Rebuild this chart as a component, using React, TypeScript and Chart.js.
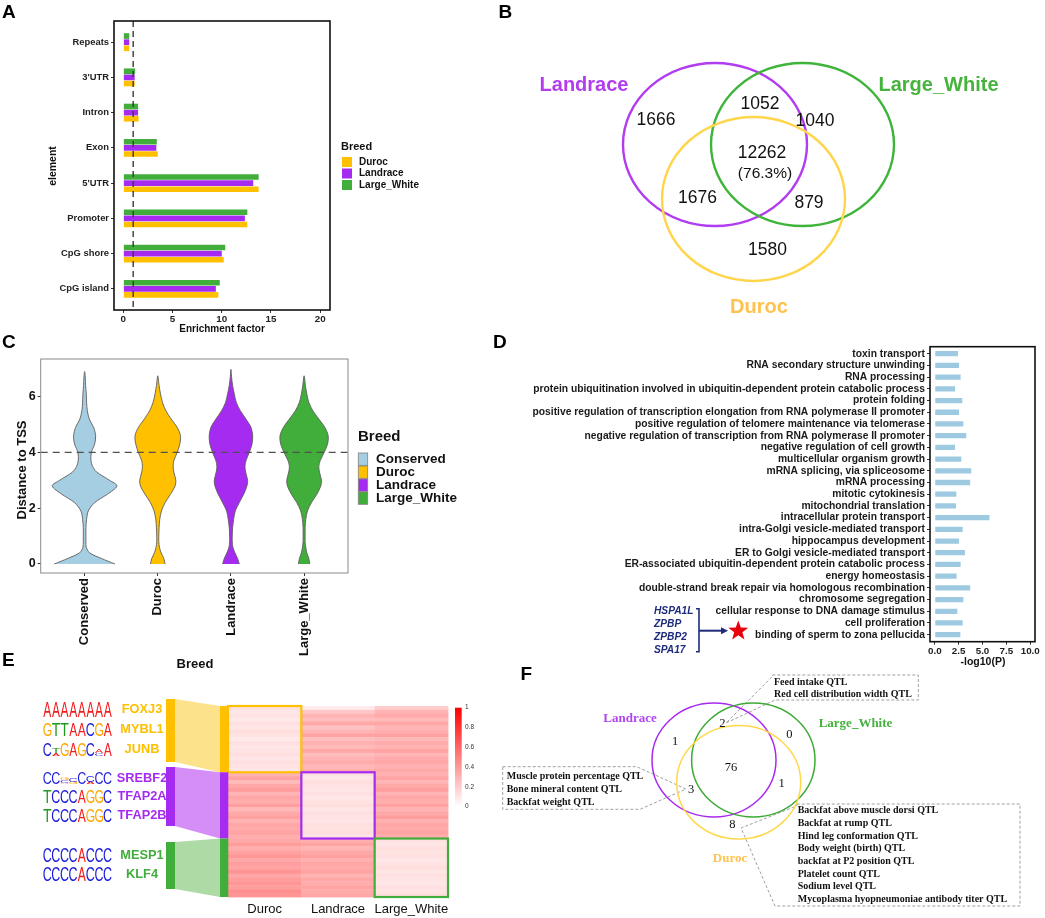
import React, { useEffect, useRef } from 'react';
import { Chart, registerables } from 'chart.js';

Chart.register(...registerables);

const SANS = '"Liberation Sans", Arial, Helvetica, sans-serif';
const SERIF = '"Liberation Serif", "Times New Roman", Times, serif';

const COLOR_DUROC = '#FFC000';
const COLOR_LANDRACE = '#A52BF1';
const COLOR_LW = '#41AD3A';
const COLOR_CONSERVED = '#A6CEE3';
const COLOR_GO = '#9ECAE1';

/* ---------- Panel A : enrichment factor ---------- */
const elementCategories = ['Repeats', "3'UTR", 'Intron', 'Exon', "5'UTR", 'Promoter', 'CpG shore', 'CpG island'];
const enrichLargeWhite = [0.6, 1.2, 1.5, 3.4, 13.75, 12.6, 10.35, 9.8];
const enrichLandrace = [0.6, 1.15, 1.5, 3.35, 13.2, 12.35, 10.0, 9.4];
const enrichDuroc = [0.6, 1.15, 1.55, 3.5, 13.75, 12.6, 10.2, 9.65];
const enrichTicks = [0, 5, 10, 15, 20];
const enrichThreshold = 1;
const breedNames = ['Duroc', 'Landrace', 'Large_White'];
const breedColors = [COLOR_DUROC, COLOR_LANDRACE, COLOR_LW];

/* ---------- Panel B : peak Venn ---------- */
const vennBSets = ['Landrace', 'Large_White', 'Duroc'];
// order: Landrace only, Landrace&LW, LW only, all three, Landrace&Duroc, LW&Duroc, Duroc only
const vennBCounts = [1666, 1052, 1040, 12262, 1676, 879, 1580];
const vennBCoreShare = '(76.3%)';

/* ---------- Panel C : violins ---------- */
const violinGroups = ['Conserved', 'Duroc', 'Landrace', 'Large_White'];
const violinY = [0, 0.2, 0.4, 0.6, 0.8, 1.0, 1.3, 1.6, 1.9, 2.2, 2.5, 2.8, 3.0, 3.3, 3.5, 3.7, 4.0, 4.3, 4.6, 4.9, 5.2, 5.5, 5.8, 6.1, 6.4, 6.7];
const violinConserved = [0.415, 0.228, 0.068, 0.023, 0.018, 0.018, 0.018, 0.027, 0.05, 0.137, 0.31, 0.443, 0.342, 0.164, 0.11, 0.087, 0.091, 0.137, 0.151, 0.123, 0.064, 0.037, 0.027, 0.023, 0.014, 0.009];
const violinDuroc = [0.1, 0.082, 0.046, 0.023, 0.014, 0.014, 0.018, 0.027, 0.05, 0.1, 0.174, 0.237, 0.247, 0.219, 0.21, 0.219, 0.265, 0.301, 0.311, 0.265, 0.183, 0.11, 0.064, 0.037, 0.018, 0.005];
const violinLandrace = [0.114, 0.091, 0.055, 0.027, 0.018, 0.018, 0.023, 0.037, 0.059, 0.114, 0.174, 0.219, 0.228, 0.201, 0.192, 0.205, 0.251, 0.288, 0.297, 0.274, 0.205, 0.128, 0.073, 0.046, 0.023, 0.009];
const violinLargeWhite = [0.078, 0.064, 0.037, 0.023, 0.014, 0.014, 0.014, 0.023, 0.046, 0.1, 0.174, 0.228, 0.237, 0.21, 0.201, 0.219, 0.274, 0.32, 0.329, 0.283, 0.201, 0.119, 0.064, 0.037, 0.018, 0.005];
const violinTop = [6.9, 6.75, 6.98, 6.75];
const tssTicks = [0, 2, 4, 6];
const tssThreshold = 4;

/* ---------- Panel D : GO terms ---------- */
const goTerms = [
  'toxin transport',
  'RNA secondary structure unwinding',
  'RNA processing',
  'protein ubiquitination involved in ubiquitin-dependent protein catabolic process',
  'protein folding',
  'positive regulation of transcription elongation from RNA polymerase II promoter',
  'positive regulation of telomere maintenance via telomerase',
  'negative regulation of transcription from RNA polymerase II promoter',
  'negative regulation of cell growth',
  'multicellular organism growth',
  'mRNA splicing, via spliceosome',
  'mRNA processing',
  'mitotic cytokinesis',
  'mitochondrial translation',
  'intracellular protein transport',
  'intra-Golgi vesicle-mediated transport',
  'hippocampus development',
  'ER to Golgi vesicle-mediated transport',
  'ER-associated ubiquitin-dependent protein catabolic process',
  'energy homeostasis',
  'double-strand break repair via homologous recombination',
  'chromosome segregation',
  'cellular response to DNA damage stimulus',
  'cell proliferation',
  'binding of sperm to zona pellucida',
];
const goLogP = [2.43, 2.54, 2.71, 2.12, 2.88, 2.54, 2.99, 3.3, 2.12, 2.78, 3.82, 3.71, 2.26, 2.22, 5.73, 2.92, 2.54, 3.16, 2.71, 2.29, 3.71, 2.99, 2.36, 2.92, 2.68];
const goTicks = [0, 2.5, 5, 7.5, 10];
const spermGenes = ['HSPA1L', 'ZPBP', 'ZPBP2', 'SPA17'];

/* ---------- Panel E : motifs + heatmap ---------- */
const heatColumns = ['Duroc', 'Landrace', 'Large_White'];
const heatGroupSizes = [17, 17, 15];
const heatDuroc = [0.12, 0.1, 0.11, 0.09, 0.12, 0.1, 0.13, 0.11, 0.09, 0.12, 0.1, 0.11, 0.13, 0.1, 0.12, 0.11, 0.1,
  0.3, 0.36, 0.27, 0.34, 0.39, 0.29, 0.35, 0.32, 0.38, 0.28, 0.34, 0.37, 0.3, 0.35, 0.33, 0.36, 0.32,
  0.34, 0.39, 0.32, 0.37, 0.41, 0.34, 0.38, 0.36, 0.42, 0.35, 0.39, 0.41, 0.38, 0.44, 0.42];
const heatLandrace = [0.08, 0.22, 0.3, 0.26, 0.34, 0.24, 0.29, 0.36, 0.25, 0.31, 0.27, 0.35, 0.26, 0.3, 0.33, 0.28, 0.32,
  0.12, 0.1, 0.13, 0.11, 0.1, 0.12, 0.09, 0.11, 0.13, 0.1, 0.12, 0.11, 0.1, 0.12, 0.11, 0.13, 0.1,
  0.32, 0.36, 0.29, 0.34, 0.37, 0.31, 0.35, 0.33, 0.36, 0.3, 0.34, 0.32, 0.36, 0.33, 0.35];
const heatLargeWhite = [0.2, 0.3, 0.33, 0.27, 0.35, 0.29, 0.32, 0.37, 0.28, 0.33, 0.3, 0.36, 0.29, 0.33, 0.35, 0.31, 0.34,
  0.31, 0.36, 0.29, 0.34, 0.38, 0.3, 0.35, 0.32, 0.37, 0.3, 0.34, 0.38, 0.31, 0.35, 0.33, 0.36, 0.32,
  0.12, 0.1, 0.13, 0.11, 0.12, 0.1, 0.11, 0.13, 0.1, 0.12, 0.11, 0.1, 0.12, 0.11, 0.13];
const heatScaleTicks = [1, 0.8, 0.6, 0.4, 0.2, 0];
const motifNames = ['FOXJ3', 'MYBL1', 'JUNB', 'SREBF2', 'TFAP2A', 'TFAP2B', 'MESP1', 'KLF4'];
const motifGroup = [0, 0, 0, 1, 1, 1, 2, 2];
// each column: single letter = full height; otherwise letter+tenths, listed top to bottom
const motifLogos = [
  ['A', 'A', 'A', 'A', 'A', 'A', 'A', 'A'],
  ['G', 'T', 'T', 'A', 'A', 'C', 'G', 'A'],
  ['C', 'T4A2', 'G', 'A', 'G', 'C', 'A3C2', 'A'],
  ['C', 'C', 'G2C2A1', 'C3G2', 'C', 'C5A2', 'C', 'C'],
  ['T', 'C', 'C', 'C', 'A', 'G', 'G', 'C'],
  ['T', 'C', 'C', 'C', 'A', 'G', 'G', 'C'],
  ['C', 'C', 'C', 'C', 'A', 'C', 'C', 'C'],
  ['C', 'C', 'C', 'C', 'A', 'C', 'C', 'C'],
];

/* ---------- Panel F : QTL Venn ---------- */
const vennFSets = ['Landrace', 'Large_White', 'Duroc'];
const vennFCounts = [1, 2, 0, 76, 3, 1, 8];
const qtlLandraceLW = ['Feed intake QTL', 'Red cell distribution width QTL'];
const qtlLandraceDuroc = ['Muscle protein percentage QTL', 'Bone mineral content QTL', 'Backfat weight QTL'];
const qtlDurocOnly = ['Backfat above muscle dorsi QTL', 'Backfat at rump QTL', 'Hind leg conformation QTL', 'Body weight (birth) QTL', 'backfat at P2 position QTL', 'Platelet count QTL', 'Sodium level QTL', 'Mycoplasma hyopneumoniae antibody titer QTL'];

/* ---------- helpers ---------- */
function put(ctx: CanvasRenderingContext2D, s: string, x: number, y: number, font: string, color: string,
  align: CanvasTextAlign = 'left', baseline: CanvasTextBaseline = 'middle', rot = 0) {
  ctx.save();
  ctx.font = font;
  ctx.fillStyle = color;
  ctx.textAlign = align;
  ctx.textBaseline = baseline;
  ctx.translate(x, y);
  if (rot) ctx.rotate(rot);
  ctx.fillText(s, 0, 0);
  ctx.restore();
}

const noInteraction = { events: [] as any[], animation: false as const, responsive: false };
const hidePlugins = { legend: { display: false }, tooltip: { enabled: false } };

function axisFont(size: number, weight: any = 'bold') {
  return { family: SANS, size, weight, lineHeight: 1.1 };
}

function pageChart(left: number, top: number, width: number, height: number, draw: (chart: any) => void, id: string) {
  return {
    type: 'scatter',
    data: { datasets: [] },
    options: {
      ...noInteraction,
      layout: { padding: 0 },
      plugins: hidePlugins,
      scales: {
        x: { type: 'linear', display: false, min: left, max: left + width },
        y: { type: 'linear', display: false, min: top, max: top + height, reverse: true },
      },
    },
    plugins: [{ id, afterDraw: draw }],
  };
}

/* ---------- Panel A build ---------- */
const buildA = () => ({
  type: 'bar',
  data: {
    datasets: [
      { label: 'Large_White', data: enrichLargeWhite.map((v, i) => ({ x: v, y: i })), backgroundColor: COLOR_LW },
      { label: 'Landrace', data: enrichLandrace.map((v, i) => ({ x: v, y: i })), backgroundColor: COLOR_LANDRACE },
      { label: 'Duroc', data: enrichDuroc.map((v, i) => ({ x: v, y: i })), backgroundColor: COLOR_DUROC },
    ],
  },
  options: {
    ...noInteraction,
    indexAxis: 'y',
    layout: { padding: { left: 0, right: 100, top: 21, bottom: 0 } },
    datasets: { bar: { categoryPercentage: 0.52, barPercentage: 0.93 } },
    plugins: hidePlugins,
    scales: {
      x: {
        type: 'linear', min: -0.95, max: 21,
        afterBuildTicks: (s: any) => { s.ticks = enrichTicks.map((v) => ({ value: v })); },
        afterFit: (s: any) => { s.height = 30; },
        grid: { drawOnChartArea: false, tickLength: 3, color: '#333' },
        border: { display: false },
        ticks: { font: axisFont(9.8), color: '#222', padding: 1, maxRotation: 0, autoSkip: false },
      },
      y: {
        type: 'linear', min: -0.6, max: 7.6, reverse: true, offset: false,
        afterBuildTicks: (s: any) => { s.ticks = elementCategories.map((_, i) => ({ value: i })); },
        afterFit: (s: any) => { s.width = 114; },
        grid: { offset: false, drawOnChartArea: false, tickLength: 3, color: '#333' },
        border: { display: false },
        ticks: { callback: (v: any) => elementCategories[v], font: axisFont(9.4), color: '#222', padding: 2, autoSkip: false },
      },
    },
  },
  plugins: [{
    id: 'decorA',
    afterDatasetsDraw(chart: any) {
      const { ctx, chartArea: a, scales } = chart;
      const px = scales.x.getPixelForValue(enrichThreshold);
      ctx.save();
      ctx.strokeStyle = '#3a3a3a';
      ctx.lineWidth = 1.4;
      ctx.setLineDash([6, 4]);
      ctx.beginPath(); ctx.moveTo(px, a.top); ctx.lineTo(px, a.bottom); ctx.stroke();
      ctx.setLineDash([]);
      ctx.strokeStyle = '#111';
      ctx.lineWidth = 1.6;
      ctx.strokeRect(a.left, a.top, a.right - a.left, a.bottom - a.top);
      ctx.restore();
    },
    afterDraw(chart: any) {
      const ctx = chart.ctx;
      put(ctx, 'A', 2, 18, `bold 19px ${SANS}`, '#000', 'left', 'alphabetic');
      put(ctx, 'element', 53, 166, `bold 10.5px ${SANS}`, '#111', 'center', 'middle', -Math.PI / 2);
      put(ctx, 'Enrichment factor', 222, 329, `bold 10px ${SANS}`, '#111', 'center');
      put(ctx, 'Breed', 341, 147, `bold 11px ${SANS}`, '#111');
      breedNames.forEach((b, i) => {
        ctx.fillStyle = breedColors[i];
        ctx.fillRect(342, 157 + i * 11.5, 10, 10);
        put(ctx, b, 359, 162.3 + i * 11.4, `bold 10px ${SANS}`, '#111');
      });
    },
  }],
});

/* ---------- Panel B build ---------- */
const buildB = () => pageChart(360, 0, 685, 330, (chart: any) => {
  const { ctx, scales: { x, y } } = chart;
  const X = (v: number) => x.getPixelForValue(v);
  const Y = (v: number) => y.getPixelForValue(v);
  const ell = (cx: number, cy: number, rx: number, ry: number, color: string) => {
    ctx.beginPath();
    ctx.strokeStyle = color;
    ctx.lineWidth = 2.4;
    ctx.ellipse(X(cx), Y(cy), X(cx + rx) - X(cx), Y(cy + ry) - Y(cy), 0, 0, Math.PI * 2);
    ctx.stroke();
  };
  ctx.save();
  ell(715, 144.5, 92, 81.5, '#B13CF0');
  ell(802.5, 144.5, 91.5, 81.5, '#3EB43A');
  ell(753.5, 199, 91.5, 82, '#FFD54C');
  put(ctx, 'B', X(498.5), Y(17.5), `bold 19px ${SANS}`, '#000', 'left', 'alphabetic');
  put(ctx, vennBSets[0], X(584), Y(85), `bold 20px ${SANS}`, '#B23CEE', 'center');
  put(ctx, vennBSets[1], X(938.5), Y(85), `bold 20px ${SANS}`, '#46B33C', 'center');
  put(ctx, vennBSets[2], X(759), Y(307), `bold 20px ${SANS}`, '#FFC24E', 'center');
  const pos = [[656, 120], [760, 104], [815, 121], [762, 153], [697.5, 198], [809, 203], [767.5, 250]];
  vennBCounts.forEach((c, i) => put(ctx, String(c), X(pos[i][0]), Y(pos[i][1]), `17.5px ${SANS}`, '#111', 'center'));
  put(ctx, vennBCoreShare, X(765), Y(174), `15.5px ${SANS}`, '#111', 'center');
  ctx.restore();
}, 'vennB');

/* ---------- Panel C build ---------- */
const violinSets = [violinConserved, violinDuroc, violinLandrace, violinLargeWhite];
const violinColors = [COLOR_CONSERVED, COLOR_DUROC, COLOR_LANDRACE, COLOR_LW];
function violinOutline(i: number) {
  const w = violinSets[i];
  const right = violinY.map((yv, k) => ({ x: i + w[k], y: yv }));
  const left = violinY.map((yv, k) => ({ x: i - w[k], y: yv })).reverse();
  return [...right, { x: i, y: violinTop[i] }, ...left];
}

const buildC = () => ({
  type: 'scatter',
  data: {
    datasets: violinGroups.map((g, i) => ({
      label: g,
      data: violinOutline(i),
      showLine: true,
      fill: 'shape',
      backgroundColor: violinColors[i],
      borderColor: '#5e5e5e',
      borderWidth: 0.9,
      pointRadius: 0,
      tension: 0.3,
    })),
  },
  options: {
    ...noInteraction,
    layout: { padding: { left: 0, right: 172, top: 39, bottom: 0 } },
    plugins: hidePlugins,
    scales: {
      x: {
        type: 'linear', min: -0.6, max: 3.6,
        afterBuildTicks: (s: any) => { s.ticks = violinGroups.map((_, i) => ({ value: i })); },
        afterFit: (s: any) => { s.height = 102; },
        grid: { drawOnChartArea: false, tickLength: 3, color: '#333' },
        border: { display: false },
        ticks: { callback: (v: any) => violinGroups[v], font: axisFont(13), color: '#111', padding: 2, minRotation: 90, maxRotation: 90, autoSkip: false },
      },
      y: {
        type: 'linear', min: -0.323, max: 7.352,
        afterBuildTicks: (s: any) => { s.ticks = tssTicks.map((v) => ({ value: v })); },
        afterFit: (s: any) => { s.width = 40.7; },
        grid: { drawOnChartArea: false, tickLength: 3, color: '#333' },
        border: { display: false },
        ticks: { font: axisFont(12.5), color: '#111', padding: 2, autoSkip: false },
      },
    },
  },
  plugins: [{
    id: 'decorC',
    afterDatasetsDraw(chart: any) {
      const { ctx, chartArea: a, scales } = chart;
      const py = scales.y.getPixelForValue(tssThreshold);
      ctx.save();
      ctx.strokeStyle = '#505050';
      ctx.lineWidth = 1.3;
      ctx.setLineDash([7, 5]);
      ctx.beginPath(); ctx.moveTo(a.left, py); ctx.lineTo(a.right, py); ctx.stroke();
      ctx.setLineDash([]);
      ctx.strokeStyle = '#8a8a8a';
      ctx.lineWidth = 1;
      ctx.strokeRect(a.left, a.top, a.right - a.left, a.bottom - a.top);
      ctx.restore();
    },
    afterDraw(chart: any) {
      const ctx = chart.ctx;
      const oy = 320;
      put(ctx, 'C', 2, 348 - oy, `bold 19px ${SANS}`, '#000', 'left', 'alphabetic');
      put(ctx, 'Distance to TSS', 22, 470 - oy, `bold 13px ${SANS}`, '#111', 'center', 'middle', -Math.PI / 2);
      put(ctx, 'Breed', 195, 664 - oy, `bold 13px ${SANS}`, '#111', 'center');
      put(ctx, 'Breed', 358, 437 - oy, `bold 15px ${SANS}`, '#111');
      violinGroups.forEach((g, i) => {
        const ky = 453 + i * 13 - oy;
        ctx.fillStyle = violinColors[i];
        ctx.fillRect(358.3, ky, 9.4, 12.3);
        ctx.strokeStyle = '#808080';
        ctx.lineWidth = 0.8;
        ctx.strokeRect(358.3, ky, 9.4, 12.3);
        put(ctx, g, 376, ky + 6.2, `bold 13.5px ${SANS}`, '#111');
      });
    },
  }],
});

/* ---------- Panel D build ---------- */
const buildD = () => ({
  type: 'bar',
  data: {
    datasets: [{ label: '-log10(P)', data: goLogP.map((v, i) => ({ x: v, y: i })), backgroundColor: COLOR_GO }],
  },
  options: {
    ...noInteraction,
    indexAxis: 'y',
    layout: { padding: { left: 0, right: 10, top: 26.7, bottom: 0 } },
    datasets: { bar: { categoryPercentage: 0.45, barPercentage: 1 } },
    plugins: hidePlugins,
    scales: {
      x: {
        type: 'linear', min: -0.5, max: 10.5,
        afterBuildTicks: (s: any) => { s.ticks = goTicks.map((v) => ({ value: v })); },
        afterFit: (s: any) => { s.height = 28.3; },
        grid: { drawOnChartArea: false, tickLength: 3, color: '#333' },
        border: { display: false },
        ticks: { callback: (v: any) => Number(v).toFixed(1), font: axisFont(9.8), color: '#222', padding: 1, maxRotation: 0, autoSkip: false },
      },
      y: {
        type: 'linear', min: -0.6, max: 24.6, reverse: true, offset: false,
        afterBuildTicks: (s: any) => { s.ticks = goTerms.map((_, i) => ({ value: i })); },
        afterFit: (s: any) => { s.width = 450; },
        grid: { offset: false, drawOnChartArea: false, tickLength: 3, color: '#333' },
        border: { display: false },
        ticks: { callback: (v: any) => goTerms[v], font: axisFont(10.3), color: '#1a1a1a', padding: 2, autoSkip: false },
      },
    },
  },
  plugins: [{
    id: 'decorD',
    afterDatasetsDraw(chart: any) {
      const { ctx, chartArea: a } = chart;
      ctx.save();
      ctx.strokeStyle = '#111';
      ctx.lineWidth = 1.6;
      ctx.strokeRect(a.left, a.top, a.right - a.left, a.bottom - a.top);
      ctx.restore();
    },
    afterDraw(chart: any) {
      const ctx = chart.ctx;
      const ox = 480, oy = 320;
      put(ctx, 'D', 493 - ox, 348 - oy, `bold 19px ${SANS}`, '#000', 'left', 'alphabetic');
      put(ctx, '-log10(P)', 983 - ox, 662 - oy, `bold 10.5px ${SANS}`, '#111', 'center');
      const navy = '#1D2B7A';
      spermGenes.forEach((g, i) => put(ctx, g, 654 - ox, 611 + i * 13 - oy, `italic bold 10.2px ${SANS}`, navy));
      ctx.save();
      ctx.strokeStyle = navy;
      ctx.lineWidth = 1.6;
      ctx.beginPath();
      ctx.moveTo(696 - ox, 608.7 - oy); ctx.lineTo(699 - ox, 608.7 - oy);
      ctx.lineTo(699 - ox, 651.7 - oy); ctx.lineTo(696 - ox, 651.7 - oy);
      ctx.stroke();
      ctx.lineWidth = 2;
      ctx.beginPath(); ctx.moveTo(699 - ox, 630.7 - oy); ctx.lineTo(723 - ox, 630.7 - oy); ctx.stroke();
      ctx.fillStyle = navy;
      ctx.beginPath();
      ctx.moveTo(728 - ox, 630.7 - oy); ctx.lineTo(721 - ox, 627.2 - oy); ctx.lineTo(721 - ox, 634.2 - oy);
      ctx.closePath(); ctx.fill();
      const cx = 738.3 - ox, cy = 631 - oy;
      ctx.fillStyle = '#E8000B';
      ctx.beginPath();
      for (let k = 0; k < 10; k++) {
        const ang = -Math.PI / 2 + (k * Math.PI) / 5;
        const r = k % 2 === 0 ? 10.5 : 4.3;
        ctx.lineTo(cx + r * Math.cos(ang), cy + r * Math.sin(ang));
      }
      ctx.closePath(); ctx.fill();
      ctx.restore();
    },
  }],
});

/* ---------- Panel E build ---------- */
const LOGO_COLORS: Record<string, string> = { A: '#F21A1A', C: '#1B1BD9', G: '#FFA600', T: '#1E9A1E' };
const groupColors = [COLOR_DUROC, COLOR_LANDRACE, COLOR_LW];
const ribbonColors = ['#FDE28C', '#D48EF6', '#AEDAA6'];

function parseColumn(col: string): [string, number][] {
  if (col.length === 1) return [[col, 1]];
  const out: [string, number][] = [];
  for (let i = 0; i < col.length; i += 2) out.push([col[i], Number(col[i + 1]) / 10]);
  return out;
}
function drawGlyph(ctx: CanvasRenderingContext2D, L: string, x: number, y: number, w: number, h: number) {
  if (h < 0.5) return;
  ctx.save();
  ctx.font = `100px ${SANS}`;
  ctx.textBaseline = 'alphabetic';
  ctx.textAlign = 'left';
  const m = ctx.measureText(L);
  const gw = m.actualBoundingBoxRight + m.actualBoundingBoxLeft;
  const gh = m.actualBoundingBoxAscent + m.actualBoundingBoxDescent;
  ctx.translate(x, y);
  ctx.scale(w / gw, h / gh);
  ctx.fillStyle = LOGO_COLORS[L];
  ctx.fillText(L, m.actualBoundingBoxLeft, m.actualBoundingBoxAscent);
  ctx.restore();
}
function heatColor(v: number) {
  const c = Math.round(255 * (1 - v));
  return `rgb(255,${c},${c})`;
}

const buildE = () => ({
  type: 'scatter',
  data: { datasets: [] },
  options: {
    ...noInteraction,
    layout: { padding: { left: 228, right: 72, top: 61, bottom: 0 } },
    plugins: hidePlugins,
    scales: {
      x: {
        type: 'linear', min: 0, max: 3,
        afterBuildTicks: (s: any) => { s.ticks = heatColumns.map((_, i) => ({ value: i + 0.5 })); },
        afterFit: (s: any) => { s.height = 21; },
        grid: { display: false, drawTicks: false },
        border: { display: false },
        ticks: { callback: (v: any) => heatColumns[Math.floor(v)], font: axisFont(13, 'normal'), color: '#111', padding: 5, maxRotation: 0, autoSkip: false },
      },
      y: { type: 'linear', display: false, min: 0, max: heatDuroc.length, reverse: true },
    },
  },
  plugins: [{
    id: 'heatE',
    beforeDatasetsDraw(chart: any) {
      const { ctx, scales: { x, y } } = chart;
      const cols = [heatDuroc, heatLandrace, heatLargeWhite];
      ctx.save();
      cols.forEach((col, c) => {
        col.forEach((v, r) => {
          const x0 = x.getPixelForValue(c), x1 = x.getPixelForValue(c + 1);
          const y0 = y.getPixelForValue(r), y1 = y.getPixelForValue(r + 1);
          ctx.fillStyle = heatColor(v);
          ctx.fillRect(x0, y0, x1 - x0 + 0.4, y1 - y0 + 0.4);
        });
      });
      let start = 0;
      heatGroupSizes.forEach((n, g) => {
        const x0 = x.getPixelForValue(g), x1 = x.getPixelForValue(g + 1);
        const y0 = y.getPixelForValue(start), y1 = y.getPixelForValue(start + n);
        ctx.strokeStyle = groupColors[g];
        ctx.lineWidth = 2.2;
        ctx.strokeRect(x0, y0, x1 - x0, y1 - y0);
        ctx.fillStyle = groupColors[g];
        ctx.fillRect(220, y0, 8.3, y1 - y0);
        start += n;
      });
      ctx.restore();
    },
    afterDraw(chart: any) {
      const { ctx, scales: { y } } = chart;
      const oy = 645;
      put(ctx, 'E', 2, 666 - oy, `bold 19px ${SANS}`, '#000', 'left', 'alphabetic');
      const leftBars = [[699, 762], [767, 826], [842, 889]];
      let start = 0;
      heatGroupSizes.forEach((n, g) => {
        const r0 = y.getPixelForValue(start), r1 = y.getPixelForValue(start + n);
        const [l0, l1] = leftBars[g];
        ctx.fillStyle = ribbonColors[g];
        ctx.beginPath();
        ctx.moveTo(175, l0 - oy); ctx.lineTo(220, r0); ctx.lineTo(220, r1); ctx.lineTo(175, l1 - oy);
        ctx.closePath(); ctx.fill();
        ctx.fillStyle = groupColors[g];
        ctx.fillRect(166, l0 - oy, 9, l1 - l0);
        start += n;
      });
      const rows = [[702, 717], [723, 736], [743, 756], [772, 784], [790, 803], [809, 822], [848, 862], [867, 881]];
      const colW = 69 / 8;
      motifLogos.forEach((logo, m) => {
        const [t, b] = rows[m];
        const h = b - t;
        logo.forEach((col, i) => {
          const stack = parseColumn(col);
          let yb = b;
          for (let k = stack.length - 1; k >= 0; k--) {
            const [L, f] = stack[k];
            const lh = f * h;
            drawGlyph(ctx, L, 43 + i * colW + 0.3, yb - lh - oy, colW - 0.6, lh);
            yb -= lh;
          }
        });
        put(ctx, motifNames[m], 142, (t + b) / 2 - oy, `bold 12.8px ${SANS}`, groupColors[motifGroup[m]], 'center');
      });
      const cbTop = 707.7 - oy, cbBot = 806.7 - oy;
      const grad = ctx.createLinearGradient(0, cbTop, 0, cbBot);
      grad.addColorStop(0, heatColor(1));
      grad.addColorStop(0.5, heatColor(0.5));
      grad.addColorStop(1, heatColor(0));
      ctx.fillStyle = grad;
      ctx.fillRect(455, cbTop, 6.7, cbBot - cbTop);
      heatScaleTicks.forEach((v) => {
        const py = cbBot - v * (cbBot - cbTop);
        put(ctx, String(v), 465, py, `6.5px ${SANS}`, '#333');
      });
    },
  }],
});

/* ---------- Panel F build ---------- */
const buildF = () => pageChart(480, 650, 565, 268, (chart: any) => {
  const { ctx, scales: { x, y } } = chart;
  const X = (v: number) => x.getPixelForValue(v);
  const Y = (v: number) => y.getPixelForValue(v);
  ctx.save();
  put(ctx, 'F', X(520.5), Y(680), `bold 19px ${SANS}`, '#000', 'left', 'alphabetic');
  const callout = (pts: number[][]) => {
    ctx.beginPath();
    pts.forEach(([px, py], i) => (i === 0 ? ctx.moveTo(X(px), Y(py)) : ctx.lineTo(X(px), Y(py))));
    ctx.closePath();
    ctx.strokeStyle = '#a0a0a0';
    ctx.lineWidth = 1;
    ctx.setLineDash([3, 2]);
    ctx.stroke();
    ctx.setLineDash([]);
  };
  callout([[772.3, 675], [918.3, 675], [918.3, 700], [775, 700], [726, 723], [772.3, 676.5]]);
  callout([[502.7, 766.7], [636.7, 766.7], [686, 789], [640, 809.3], [502.7, 809.3]]);
  callout([[796.7, 804], [1020, 804], [1020, 906], [775, 906], [741, 828], [796.7, 806]]);
  const ell = (cx: number, cy: number, rx: number, ry: number, color: string) => {
    ctx.beginPath();
    ctx.strokeStyle = color;
    ctx.lineWidth = 1.5;
    ctx.ellipse(X(cx), Y(cy), X(cx + rx) - X(cx), Y(cy + ry) - Y(cy), 0, 0, Math.PI * 2);
    ctx.stroke();
  };
  ell(714, 760, 62, 57, '#A82AF0');
  ell(753.3, 760, 61.7, 57, '#3DAA35');
  ell(738.7, 782.3, 62, 56.7, '#FFD84A');
  put(ctx, vennFSets[0], X(630), Y(719), `bold 13px ${SERIF}`, '#B144F0', 'center');
  put(ctx, vennFSets[1], X(855.5), Y(724), `bold 13px ${SERIF}`, '#44B23E', 'center');
  put(ctx, vennFSets[2], X(730), Y(859), `bold 13px ${SERIF}`, '#FFC350', 'center');
  const pos = [[675, 742], [722.3, 723.3], [789.3, 735], [731, 767.7], [691, 790], [781.7, 783.3], [732.3, 825]];
  vennFCounts.forEach((c, i) => put(ctx, String(c), X(pos[i][0]), Y(pos[i][1]), `12.5px ${SERIF}`, '#111', 'center'));
  const qf = `bold 10px ${SERIF}`;
  qtlLandraceLW.forEach((s, i) => put(ctx, s, X(774), Y(682 + i * 12.3), qf, '#111'));
  qtlLandraceDuroc.forEach((s, i) => put(ctx, s, X(506.7), Y(776.7 + i * 13), qf, '#111'));
  qtlDurocOnly.forEach((s, i) => put(ctx, s, X(797.7), Y(810.7 + i * 12.65), qf, '#111'));
  ctx.restore();
}, 'vennF');

/* ---------- canvas host ---------- */
function ChartCanvas({ left, top, width, height, build }: { left: number; top: number; width: number; height: number; build: () => any }) {
  const ref = useRef<HTMLCanvasElement | null>(null);
  useEffect(() => {
    if (!ref.current) return undefined;
    const chart = new Chart(ref.current, build());
    return () => chart.destroy();
  }, [build]);
  return (
    <div style={{ position: 'absolute', left, top, width, height }}>
      <canvas ref={ref} width={width} height={height} style={{ width, height, display: 'block' }} />
    </div>
  );
}

export default function App() {
  return (
    <div style={{ position: 'absolute', left: 0, top: 0, width: 1045, height: 918, background: '#ffffff', overflow: 'hidden' }}>
      <ChartCanvas left={360} top={0} width={685} height={330} build={buildB} />
      <ChartCanvas left={0} top={0} width={430} height={340} build={buildA} />
      <ChartCanvas left={0} top={320} width={520} height={355} build={buildC} />
      <ChartCanvas left={480} top={320} width={565} height={350} build={buildD} />
      <ChartCanvas left={0} top={645} width={520} height={273} build={buildE} />
      <ChartCanvas left={480} top={650} width={565} height={268} build={buildF} />
    </div>
  );
}
